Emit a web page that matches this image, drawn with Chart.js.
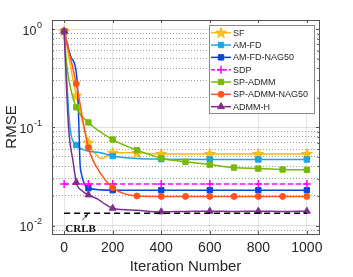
<!DOCTYPE html>
<html>
<head>
<meta charset="utf-8">
<script src="https://cdn.jsdelivr.net/npm/chart.js@4.4.0/dist/chart.umd.min.js"></script>
<style>
  html,body{margin:0;padding:0;background:#fff}
  #wrap{width:353px;height:277px}
</style>
</head>
<body>
<div id="wrap"><canvas id="chart" width="353" height="277"></canvas></div>
<script>
// data (RMSE vs iteration)
const xTicks = [0, 200, 400, 600, 800, 1000];
const yDecades = [0.01, 0.1, 1];

const sfIter = [0, 50, 100, 125, 155, 200, 300, 400, 600, 800, 1000];
const sfRmse = [0.95, 0.21, 0.070, 0.055, 0.048, 0.055, 0.055, 0.0535, 0.0535, 0.0535, 0.0535];
const sfMarks = [0, 50, 100, 200, 300, 400, 600, 800, 1000];

const amIter = [0, 24, 50, 90, 150, 200, 300, 400, 600, 800, 1000];
const amRmse = [0.95, 0.10, 0.066, 0.058, 0.055, 0.051, 0.048, 0.0474, 0.047, 0.047, 0.047];
const amMarks = [0, 50, 100, 200, 400, 600, 800, 1000];

const nagIter = [0, 27, 54, 61, 65, 72, 82, 100, 200, 400, 600, 800, 1000];
const nagRmse = [0.95, 0.53, 0.29, 0.10, 0.045, 0.033, 0.027, 0.024, 0.0229, 0.0229, 0.0229, 0.0229, 0.0229];
const nagMarks = [0, 100, 200, 400, 600, 800, 1000];

const sdpIter = [0, 100, 200, 400, 600, 800, 1000];
const sdpRmse = [0.0265, 0.0265, 0.0265, 0.0265, 0.0265, 0.0265, 0.0265];
const sdpMarks = [0, 100, 200, 400, 600, 800, 1000];

const spIter = [0, 8, 20, 50, 100, 200, 300, 400, 500, 600, 700, 800, 900, 1000];
const spRmse = [0.95, 0.5, 0.3, 0.16, 0.112, 0.075, 0.0585, 0.0485, 0.0446, 0.0417, 0.0389, 0.038, 0.0372, 0.0369];
const spMarks = [0, 50, 100, 200, 300, 400, 500, 600, 700, 800, 900, 1000];

const spnIter = [0, 50, 100, 150, 200, 250, 300, 400, 500, 600, 700, 800, 900, 1000];
const spnRmse = [0.95, 0.278, 0.062, 0.034, 0.0243, 0.021, 0.020, 0.0198, 0.0198, 0.0198, 0.0198, 0.0198, 0.0198, 0.0198];
const spnMarks = [0, 50, 100, 200, 300, 400, 500, 600, 700, 800, 900, 1000];

const admmIter = [0, 18, 27, 35, 50, 75, 100, 140, 170, 200, 300, 400, 500, 600, 700, 800, 900, 1000];
const admmRmse = [0.95, 0.10, 0.062, 0.048, 0.0275, 0.0225, 0.0205, 0.0185, 0.0164, 0.015, 0.0143, 0.0138, 0.0139, 0.014, 0.0139, 0.014, 0.0139, 0.014];
const admmMarks = [0, 50, 100, 200, 400, 600, 800, 1000];

const crlbIter = [0, 1000];
const crlbRmse = [0.0133, 0.0133];

const TXT = '#262626';
const FONT = '"Liberation Sans", Arial, sans-serif';

// filled 5-point star used as the SF marker
function starImg(fill, stroke) {
  const c = document.createElement('canvas');
  c.width = 12; c.height = 12;
  const g = c.getContext('2d');
  g.beginPath();
  for (let i = 0; i < 10; i++) {
    const r = i % 2 ? 2.3 : 5.6;
    const a = -Math.PI / 2 + i * Math.PI / 5;
    const px = 6 + r * Math.cos(a), py = 6.3 + r * Math.sin(a);
    i ? g.lineTo(px, py) : g.moveTo(px, py);
  }
  g.closePath();
  g.fillStyle = fill; g.fill();
  g.lineWidth = 0.8; g.strokeStyle = stroke; g.stroke();
  return c;
}

function series(label, iters, vals, marks, color, style, r, dash) {
  return {
    label, data: iters.map((v, i) => ({x: v, y: vals[i]})),
    borderColor: color, backgroundColor: color,
    borderWidth: 1.5, borderDash: dash || [],
    cubicInterpolationMode: 'monotone', fill: false,
    pointStyle: style, pointBackgroundColor: color, pointBorderColor: color,
    pointBorderWidth: style === 'cross' ? 1.5 : 1,
    pointRadius: c => (marks.includes(c.raw && c.raw.x) ? r : 0),
    _r: r,
  };
}

const datasets = [
  series('SF', sfIter, sfRmse, sfMarks, '#fbb712', starImg('#ffc21f', '#f2a900'), 5),
  series('AM-FD', amIter, amRmse, amMarks, '#1aa6e8', 'rect', 3.8),
  series('AM-FD-NAG50', nagIter, nagRmse, nagMarks, '#1042e0', 'rect', 3.8),
  series('SDP', sdpIter, sdpRmse, sdpMarks, '#ff00ff', 'cross', 4, [5, 3]),
  series('SP-ADMM', spIter, spRmse, spMarks, '#78b908', 'rect', 3.8),
  series('SP-ADMM-NAG50', spnIter, spnRmse, spnMarks, '#ff561e', 'circle', 3),
  series('ADMM-H', admmIter, admmRmse, admmMarks, '#7e2f8e', 'triangle', 4),
  {
    label: 'CRLB', data: crlbIter.map((v, i) => ({x: v, y: crlbRmse[i]})),
    borderColor: '#000', borderWidth: 1.5, borderDash: [6, 4], pointRadius: 0, fill: false,
  },
];
datasets.forEach((d, i) => { d.order = datasets.length - i; });

const isMajor = v => Math.abs(Math.log10(v) - Math.round(Math.log10(v))) < 1e-6;

const decor = {
  id: 'decor',
  afterDraw(chart) {
    const {ctx, chartArea: a, scales: {x, y}} = chart;
    ctx.save();

    // tick marks inside the box
    ctx.strokeStyle = '#555'; ctx.lineWidth = 1;
    ctx.beginPath();
    xTicks.forEach(v => {
      const px = Math.round(x.getPixelForValue(v)) + 0.5;
      ctx.moveTo(px, a.bottom); ctx.lineTo(px, a.bottom - 3);
      ctx.moveTo(px, a.top); ctx.lineTo(px, a.top + 3);
    });
    y.ticks.forEach(t => {
      const py = Math.round(y.getPixelForValue(t.value)) + 0.5;
      const len = isMajor(t.value) ? 3 : 1.5;
      ctx.moveTo(a.left, py); ctx.lineTo(a.left + len, py);
      ctx.moveTo(a.right, py); ctx.lineTo(a.right - len, py);
    });
    ctx.stroke();

    // box
    ctx.strokeStyle = '#555';
    ctx.strokeRect(Math.round(a.left) + 0.5, Math.round(a.top) + 0.5,
      Math.round(a.right - a.left), Math.round(a.bottom - a.top));

    // y tick labels 10^n
    ctx.fillStyle = TXT; ctx.textBaseline = 'middle';
    yDecades.forEach(v => {
      const py = y.getPixelForValue(v);
      const ex = String(Math.round(Math.log10(v)));
      ctx.textAlign = 'right';
      ctx.font = '9px ' + FONT;
      const ew = ctx.measureText(ex).width;
      ctx.fillText(ex, 42, py - 4);
      ctx.font = '12.5px ' + FONT;
      ctx.fillText('10', 42 - ew - 0.5, py + 2.5);
    });

    // CRLB annotation
    const cy = y.getPixelForValue(crlbRmse[0]);
    ctx.font = 'bold 11px "Liberation Serif", "Times New Roman", serif';
    ctx.textAlign = 'center';
    ctx.fillStyle = '#111';
    ctx.fillText('CRLB', x.getPixelForValue(68), cy + 16);
    const ax = x.getPixelForValue(99);
    ctx.strokeStyle = '#111'; ctx.lineWidth = 0.8;
    ctx.beginPath(); ctx.moveTo(ax - 6, cy + 7); ctx.lineTo(ax - 0.5, cy + 1); ctx.stroke();
    ctx.beginPath();
    ctx.moveTo(ax, cy + 0.5); ctx.lineTo(ax - 4, cy + 2.5); ctx.lineTo(ax - 1.8, cy + 4.5);
    ctx.closePath(); ctx.fill();

    // legend
    const lx = 209.5, ly = 25.5, lw = 105, lh = 88;
    ctx.fillStyle = '#fff';
    ctx.fillRect(lx, ly, lw, lh);
    ctx.strokeStyle = '#8a8a8a'; ctx.lineWidth = 1;
    ctx.strokeRect(lx, ly, lw, lh);
    ctx.font = '9px ' + FONT; ctx.textAlign = 'left'; ctx.textBaseline = 'middle';
    datasets.slice(0, 7).forEach((d, i) => {
      const ry = 32.7 + i * 12.33;
      ctx.strokeStyle = d.borderColor; ctx.lineWidth = 1.5;
      ctx.setLineDash(d.borderDash.length ? [4, 2] : []);
      ctx.beginPath(); ctx.moveTo(211, ry); ctx.lineTo(231, ry); ctx.stroke();
      ctx.setLineDash([]);
      ctx.fillStyle = d.borderColor; ctx.lineWidth = d.pointBorderWidth;
      Chart.helpers.drawPoint(ctx, {pointStyle: d.pointStyle, radius: d._r, borderWidth: d.pointBorderWidth, rotation: 0}, 221, ry);
      ctx.fillStyle = TXT;
      ctx.fillText(d.label, 233, ry + 0.5);
    });
    ctx.restore();
  }
};

new Chart(document.getElementById('chart'), {
  type: 'line',
  data: {datasets},
  options: {
    responsive: false, animation: false, events: [],
    layout: {padding: {left: 0, top: 20, right: 34, bottom: 0}},
    plugins: {legend: {display: false}, tooltip: {enabled: false}},
    scales: {
      x: {
        type: 'linear', min: -50, max: 1050,
        afterBuildTicks: s => { s.ticks = xTicks.map(v => ({value: v})); },
        afterFit: s => { s.height = 43; },
        ticks: {color: TXT, font: {family: FONT, size: 14}, padding: 6, maxRotation: 0, callback: v => String(v)},
        grid: {color: 'rgba(0,0,0,0.09)', drawTicks: false},
        border: {color: '#555'},
        title: {display: true, text: 'Iteration Number', color: TXT, font: {family: FONT, size: 15}, padding: {top: 0, bottom: 1}},
      },
      y: {
        type: 'logarithmic', min: 0.0082, max: 1.236,
        afterBuildTicks: s => {
          const t = [];
          [0.001, 0.01, 0.1, 1].forEach(d => {
            for (let m = 1; m < 10; m++) {
              const v = d * m;
              if (v >= 0.0082 && v <= 1.236) t.push({value: v, major: m === 1});
            }
          });
          s.ticks = t;
        },
        afterFit: s => { s.width = 52; },
        ticks: {display: false},
        grid: {
          drawTicks: false,
          color: c => (c.tick && isMajor(c.tick.value) ? 'rgba(0,0,0,0.12)' : 'rgba(0,0,0,0.38)'),
        },
        border: {color: '#555', dash: c => (c.tick && !isMajor(c.tick.value) ? [1, 2] : [])},
        title: {display: true, text: 'RMSE', color: TXT, font: {family: FONT, size: 15}, padding: {top: 3, bottom: 0}},
      },
    },
  },
  plugins: [decor],
});
</script>
</body>
</html>
